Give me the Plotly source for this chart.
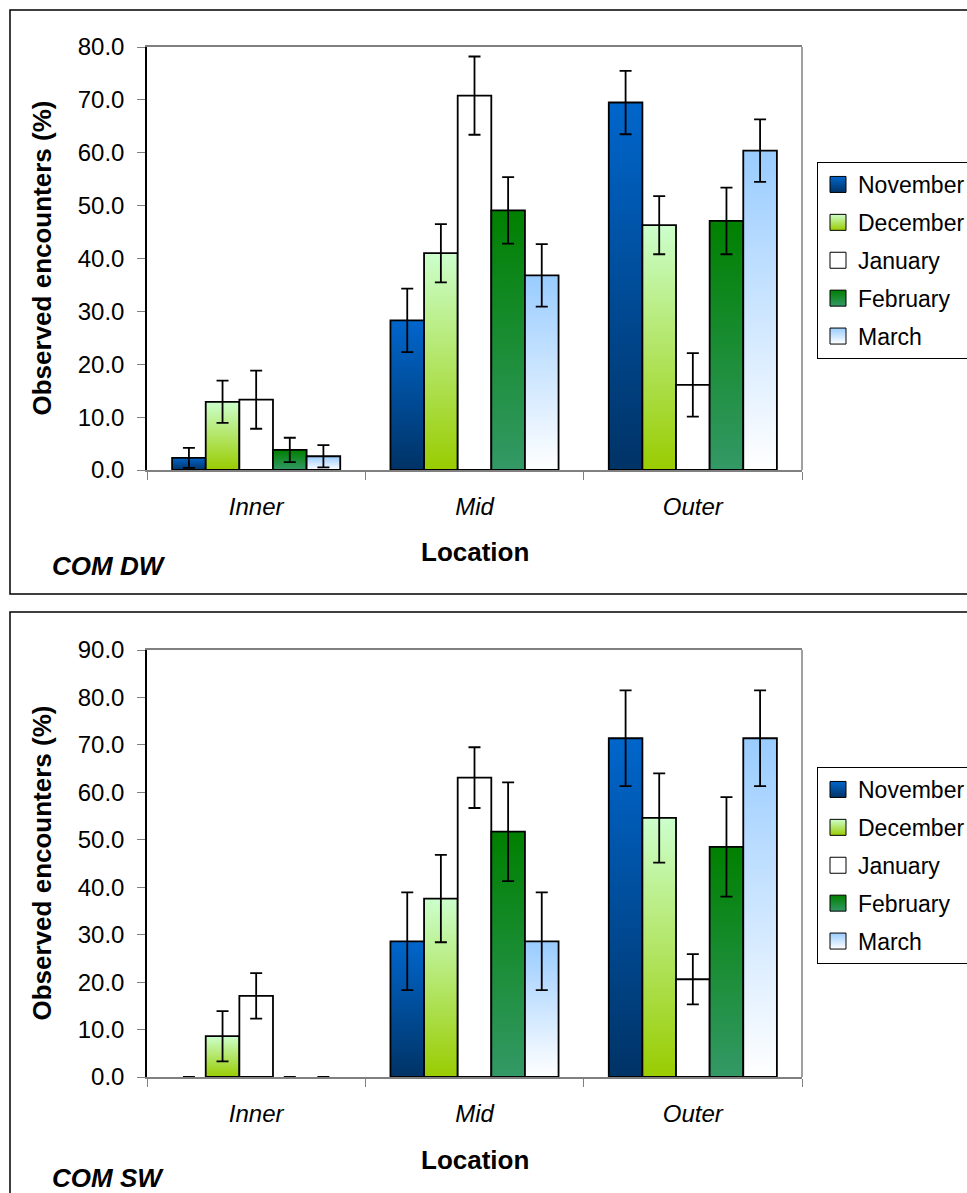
import plotly.graph_objects as go

# ---- data -------------------------------------------------------------
months = ["November", "December", "January", "February", "March"]
locations = ["Inner", "Mid", "Outer"]

# COM DW: observed encounters (%) per month, by location
dw_values = {
    "November": [2.3, 28.3, 69.5],
    "December": [12.9, 41.0, 46.3],
    "January": [13.3, 70.8, 16.1],
    "February": [3.8, 49.1, 47.1],
    "March": [2.6, 36.8, 60.4],
}
dw_errors = {
    "November": [1.9, 6.0, 6.0],
    "December": [4.0, 5.5, 5.5],
    "January": [5.5, 7.4, 6.0],
    "February": [2.3, 6.3, 6.3],
    "March": [2.1, 5.9, 5.9],
}

# COM SW: observed encounters (%) per month, by location
sw_values = {
    "November": [0.0, 28.6, 71.4],
    "December": [8.6, 37.6, 54.6],
    "January": [17.1, 63.1, 20.6],
    "February": [0.0, 51.7, 48.5],
    "March": [0.0, 28.6, 71.4],
}
sw_errors = {
    "November": [0.0, 10.3, 10.1],
    "December": [5.3, 9.2, 9.4],
    "January": [4.8, 6.4, 5.3],
    "February": [0.0, 10.4, 10.5],
    "March": [0.0, 10.3, 10.1],
}

# ---- styling ------------------------------------------------------------
# (top colour, bottom colour) of each month's vertical gradient
month_colors = {
    "November": ("#0066CC", "#003366"),
    "December": ("#CCFFCC", "#99CC00"),
    "January": ("#FFFFFF", "#FFFFFF"),
    "February": ("#008000", "#339966"),
    "March": ("#99CCFF", "#FFFFFF"),
}
FONT = "Arial, Liberation Sans, sans-serif"
BAR_W = 0.154  # width of one bar, in category units
W, H = 967, 1193


def px_x(p):
    return p / W


def px_y(p):
    return 1 - p / H


fig = go.Figure()

panels = [
    # (values, errors, xaxis, yaxis, legend name)
    (dw_values, dw_errors, "x", "y", "legend"),
    (sw_values, sw_errors, "x2", "y2", "legend2"),
]

for values, errors, xa, ya, leg in panels:
    # bars: one filled outline per bar so each gets its own gradient
    for k, m in enumerate(months):
        top, bottom = month_colors[m]
        for i, v in enumerate(values[m]):
            if v <= 0:
                continue
            x0 = i + (k - 2.5) * BAR_W
            x1 = x0 + BAR_W
            fig.add_trace(go.Scatter(
                x=[x0, x0, x1, x1, x0], y=[0, v, v, 0, 0],
                xaxis=xa, yaxis=ya, mode="lines", fill="toself",
                fillcolor=top,
                fillgradient=dict(type="vertical", start=0, stop=v,
                                  colorscale=[[0, bottom], [1, top]]),
                line=dict(color="#000000", width=1.8),
                legendgroup=m, showlegend=False, hoverinfo="skip",
            ))
    # error bars
    for k, m in enumerate(months):
        centers = [i + (k - 2) * BAR_W for i in range(len(locations))]
        fig.add_trace(go.Scatter(
            x=centers, y=values[m], xaxis=xa, yaxis=ya, mode="markers",
            marker=dict(size=1, opacity=0),
            error_y=dict(type="data", array=errors[m], visible=True,
                         color="#000000", thickness=1.8, width=6),
            legendgroup=m, showlegend=False,
            hovertemplate=m + " %{y:.1f}<extra></extra>",
        ))
    # legend swatches
    for m in months:
        top, bottom = month_colors[m]
        fig.add_trace(go.Scatter(
            x=[None], y=[None], xaxis=xa, yaxis=ya, mode="markers", name=m,
            marker=dict(symbol="square", size=16, color=top,
                        gradient=dict(type="vertical", color=bottom),
                        line=dict(color="#000000", width=1)),
            legendgroup=m, legend=leg, showlegend=True,
        ))

x_dom = [px_x(147), px_x(802)]
axis_font = dict(family=FONT, size=24, color="#000000")

xaxis_common = dict(
    domain=x_dom, range=[-0.5, 2.5], tickmode="array",
    tickvals=list(range(len(locations))), ticktext=locations,
    tickfont=dict(family=FONT, size=24, color="#000000", style="italic"),
    ticks="", ticklabelstandoff=14,
    minor=dict(tick0=-0.5, dtick=1, ticks="outside", ticklen=8,
               tickcolor="#808080", tickwidth=1),
    showline=True, linecolor="#808080", linewidth=1.5, mirror=True,
    showgrid=False, zeroline=False, fixedrange=True,
)
yaxis_common = dict(
    dtick=10, tickformat=".1f", ticks="outside", ticklen=8,
    tickcolor="#808080", tickwidth=1, tickfont=axis_font,
    ticklabelstandoff=8, showline=True, linecolor="#000000",
    linewidth=1.5, showgrid=False, zeroline=False, fixedrange=True,
)
legend_common = dict(
    x=px_x(817), xanchor="left", yanchor="top",
    bgcolor="#FFFFFF", bordercolor="#000000", borderwidth=1,
    font=dict(family=FONT, size=23, color="#000000"),
    tracegroupgap=5, traceorder="grouped",
)

fig.update_layout(
    width=W, height=H, margin=dict(l=0, r=0, t=0, b=0, autoexpand=False),
    paper_bgcolor="#FFFFFF", plot_bgcolor="#FFFFFF",
    font=dict(family=FONT, color="#000000"),
    xaxis=dict(**xaxis_common, anchor="y"),
    xaxis2=dict(**xaxis_common, anchor="y2"),
    yaxis=dict(**yaxis_common, domain=[px_y(470), px_y(47)], range=[0, 80],
               anchor="x"),
    yaxis2=dict(**yaxis_common, domain=[px_y(1077), px_y(650)],
                range=[0, 90], anchor="x2"),
    legend=dict(**legend_common, y=px_y(162)),
    legend2=dict(**legend_common, y=px_y(767)),
)

# chart frames and the right-hand plot-area border
shapes = [
    dict(type="rect", xref="paper", yref="paper", x0=px_x(10), x1=1.2,
         y0=px_y(594), y1=px_y(10), line=dict(color="#000000", width=1.5)),
    dict(type="rect", xref="paper", yref="paper", x0=px_x(10), x1=1.2,
         y0=-0.2, y1=px_y(612), line=dict(color="#000000", width=1.5)),
]
for xa, ya in (("x", "y"), ("x2", "y2")):
    shapes.append(dict(type="line", xref=xa + " domain", yref=ya + " domain",
                       x0=1, x1=1, y0=0, y1=1,
                       line=dict(color="#808080", width=1.5)))
fig.update_layout(shapes=shapes)

# axis titles and panel labels
annotations = []
for yc, loc_y, tag, tag_y in ((258.5, 551.7, "COM DW", 566),
                              (863.5, 1160, "COM SW", 1178)):
    annotations.append(dict(
        text="<b>Observed encounters (%)</b>", textangle=-90,
        xref="paper", yref="paper", x=px_x(41), y=px_y(yc),
        xanchor="center", yanchor="middle", showarrow=False,
        font=dict(family=FONT, size=26, color="#000000")))
    annotations.append(dict(
        text="<b>Location</b>", xref="paper", yref="paper",
        x=px_x(474.5), y=px_y(loc_y), xanchor="center", yanchor="middle",
        showarrow=False, font=dict(family=FONT, size=26, color="#000000")))
    annotations.append(dict(
        text="<b><i>" + tag + "</i></b>", xref="paper", yref="paper",
        x=px_x(50), y=px_y(tag_y), xanchor="left", yanchor="middle",
        showarrow=False, font=dict(family=FONT, size=26, color="#000000")))
fig.update_layout(annotations=annotations)

fig.write_html("out.html")
